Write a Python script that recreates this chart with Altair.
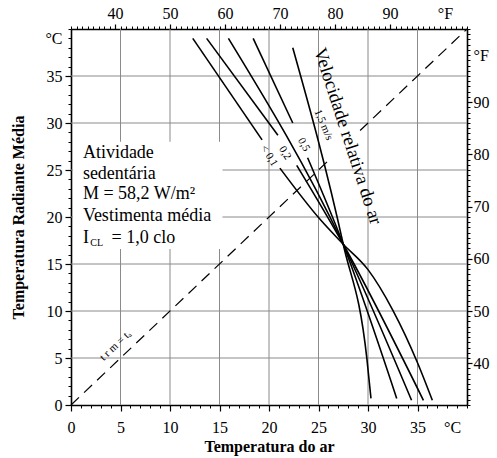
import altair as alt
import pandas as pd

FONT = "Liberation Serif"

# ---------------- data ----------------
grid_vals = [5, 10, 15, 20, 25, 30, 35]

# curves of equal comfort for several relative air velocities (x = air temp, y = mean radiant temp)
A_up_x = [12.3, 19.3]
A_up_y = [39.0, 28.2]
A_lo_x = [21.1, 25.2, 27.5, 30.0, 32.5, 35.0, 36.5]
A_lo_y = [25.2, 19.7, 17.1, 14.4, 10.1, 4.5, 0.5]
B_up_x = [13.7, 20.9]
B_up_y = [39.0, 28.7]
B_lo_x = [22.8, 27.5, 35.6]
B_lo_y = [25.5, 17.1, 0.5]
C_x = [15.9, 27.5, 34.4]
C_y = [39.0, 17.1, 0.5]
D_up_x = [18.4, 22.4]
D_up_y = [39.0, 30.0]
D_lo_x = [23.9, 27.5, 32.9]
D_lo_y = [26.3, 17.1, 0.7]
E_x = [22.4, 27.5, 29.9, 30.3]
E_y = [38.0, 17.1, 4.8, 0.7]

curve_labels = ["< 0,1", "0,2", "0,5", "1,5 m/s"]
curve_lab_x = [20.0, 21.6, 23.5, 25.5]
curve_lab_y = [26.5, 26.8, 27.7, 29.8]
curve_lab_angle = [58, 58, 62, 67]

diag_seg1 = [0, 25.9]
diag_seg2 = [29.2, 40]

info_lines = ["Atividade", "sedentária", "M = 58,2 W/m²", "Vestimenta média"]
info_y = [26.8, 24.6, 22.4, 20.1]
info_x = 1.2
box_x = [0.2, 15.3]
box_y = [16.6, 28.0]

c_labels = [0, 5, 10, 15, 20, 25, 30, 35]
c_minor = list(range(0, 41))
f_labels = [40, 50, 60, 70, 80, 90]
f_minor = list(range(32, 105))

# ---------------- build tables ----------------
segs = [("A1", A_up_x, A_up_y), ("A2", A_lo_x, A_lo_y),
        ("B1", B_up_x, B_up_y), ("B2", B_lo_x, B_lo_y),
        ("C", C_x, C_y),
        ("D1", D_up_x, D_up_y), ("D2", D_lo_x, D_lo_y),
        ("E", E_x, E_y)]
rows = []
for sid, xs, ys in segs:
    for i, (a, b) in enumerate(zip(xs, ys)):
        rows.append({"seg": sid, "x": a, "y": b, "o": i})
curves_df = pd.DataFrame(rows)

diag_df = pd.DataFrame(
    [{"seg": "d1", "x": v, "y": v} for v in diag_seg1] +
    [{"seg": "d2", "x": v, "y": v} for v in diag_seg2])

sx = alt.Scale(domain=[0, 40], nice=False, zero=False)
sy = alt.Scale(domain=[0, 40], nice=False, zero=False)
sF = alt.Scale(domain=[32, 104], nice=False, zero=False)

grid_df = pd.DataFrame({"g": grid_vals})
vgrid = alt.Chart(grid_df).mark_rule(color="#8a8a8a", strokeWidth=1).encode(
    x=alt.X("g:Q", scale=sx, axis=None))
hgrid = alt.Chart(grid_df).mark_rule(color="#8a8a8a", strokeWidth=1).encode(
    y=alt.Y("g:Q", scale=sy, axis=None))

box_df = pd.DataFrame({"x": [box_x[0]], "x2": [box_x[1]], "y": [box_y[0]], "y2": [box_y[1]]})
box = alt.Chart(box_df).mark_rect(color="white").encode(
    x=alt.X("x:Q", scale=sx, axis=None), x2="x2:Q",
    y=alt.Y("y:Q", scale=sy, axis=None), y2="y2:Q")

diag = alt.Chart(diag_df).mark_line(color="black", strokeWidth=1.2, strokeDash=[11, 7]).encode(
    x=alt.X("x:Q", scale=sx, axis=None), y=alt.Y("y:Q", scale=sy, axis=None), detail="seg:N")

curves = alt.Chart(curves_df).mark_line(color="black", strokeWidth=1.6, interpolate="monotone").encode(
    x=alt.X("x:Q", scale=sx, axis=None), y=alt.Y("y:Q", scale=sy, axis=None),
    detail="seg:N", order="o:Q")

lab_df = pd.DataFrame({"t": curve_labels, "x": curve_lab_x, "y": curve_lab_y, "a": curve_lab_angle})
labs = alt.Chart(lab_df).mark_text(font=FONT, fontSize=11, color="black").encode(
    x=alt.X("x:Q", scale=sx, axis=None), y=alt.Y("y:Q", scale=sy, axis=None),
    text="t:N", angle=alt.Angle("a:Q", scale=None))

vel_df = pd.DataFrame({"t": ["Velocidade relativa do ar"], "x": [28.0], "y": [28.6]})
vel = alt.Chart(vel_df).mark_text(font=FONT, fontSize=18.5, color="black", angle=72).encode(
    x=alt.X("x:Q", scale=sx, axis=None), y=alt.Y("y:Q", scale=sy, axis=None), text="t:N")

trm_df = pd.DataFrame({"t": ["t r m = tₐ"], "x": [4.5], "y": [6.3]})
trm = alt.Chart(trm_df).mark_text(font=FONT, fontSize=11, color="black", angle=316.5).encode(
    x=alt.X("x:Q", scale=sx, axis=None), y=alt.Y("y:Q", scale=sy, axis=None), text="t:N")

info_df = pd.DataFrame({"t": info_lines, "x": [info_x] * len(info_lines), "y": info_y})
info = alt.Chart(info_df).mark_text(font=FONT, fontSize=18, color="black", align="left").encode(
    x=alt.X("x:Q", scale=sx, axis=None), y=alt.Y("y:Q", scale=sy, axis=None), text="t:N")

icl_df = pd.DataFrame({"t": ["I", "CL", "= 1,0 clo"], "x": [info_x, 1.95, 4.1],
                       "y": [17.8, 17.2, 17.8], "s": [18, 10, 18]})
icl = alt.Chart(icl_df).mark_text(font=FONT, color="black", align="left").encode(
    x=alt.X("x:Q", scale=sx, axis=None), y=alt.Y("y:Q", scale=sy, axis=None), text="t:N",
    size=alt.Size("s:Q", scale=None))

main = alt.layer(vgrid, hgrid, box, diag, curves, labs, vel, trm, info, icl)

# ---------------- axes ----------------
lab_common = dict(domainColor="black", domainWidth=1.6, tickColor="#000000", tickWidth=1.2,
                  labelFont=FONT, labelFontSize=16, labelColor="black",
                  labelOverlap=False, labelFlush=False, labelBound=False,
                  grid=True, gridOpacity=0,
                  titleFont=FONT, titleFontSize=16, titleFontWeight="bold", titleColor="black")
minor_common = dict(domain=False, tickColor="#000000", tickWidth=1, labels=True,
                    labelExpr="''", grid=True, gridOpacity=0,
                    title=None, tickSize=3)
unit_common = dict(domain=False, ticks=False, tickSize=0, labelFont=FONT, labelFontSize=16,
                   labelColor="black", labelOverlap=False, labelFlush=False, labelBound=False,
                   grid=False, title=None)

one = pd.DataFrame({"c": [0], "f": [32]})


def xaxis(field, scale, axis):
    return alt.Chart(one).mark_point(opacity=0).encode(
        x=alt.X(f"{field}:Q", scale=scale, axis=axis), y=alt.value(0))


def yaxis(field, scale, axis):
    return alt.Chart(one).mark_point(opacity=0).encode(
        y=alt.Y(f"{field}:Q", scale=scale, axis=axis), x=alt.value(0))


layers = [
    main,
    # bottom (°C)
    xaxis("c", sx, alt.Axis(orient="bottom", values=c_labels, tickSize=6, labelPadding=8,
                            title="Temperatura do ar", titlePadding=3, **lab_common)),
    xaxis("c", sx, alt.Axis(orient="bottom", values=[38.5], labelPadding=14,
                            labelExpr="'°C'", **unit_common)),
    xaxis("c", sx, alt.Axis(orient="bottom", values=c_minor, **minor_common)),
    # left (°C)
    yaxis("c", sy, alt.Axis(orient="left", values=c_labels, tickSize=6, labelPadding=3,
                            title="Temperatura Radiante Média", titlePadding=20, **lab_common)),
    yaxis("c", sy, alt.Axis(orient="left", values=[39], labelPadding=9,
                            labelExpr="'°C'", **unit_common)),
    yaxis("c", sy, alt.Axis(orient="left", values=c_minor, **minor_common)),
    # top (°F)
    xaxis("f", sF, alt.Axis(orient="top", values=f_labels, tickSize=5, labelPadding=3,
                            title=None, **lab_common)),
    xaxis("f", sF, alt.Axis(orient="top", values=[100], labelPadding=8,
                            labelExpr="'°F'", **unit_common)),
    xaxis("f", sF, alt.Axis(orient="top", values=f_minor, **minor_common)),
    # right (°F)
    yaxis("f", sF, alt.Axis(orient="right", values=f_labels, tickSize=5, labelPadding=1,
                            title=None, **lab_common)),
    yaxis("f", sF, alt.Axis(orient="right", values=[99], labelPadding=6,
                            labelExpr="'°F'", **unit_common)),
    yaxis("f", sF, alt.Axis(orient="right", values=f_minor, **minor_common)),
]

chart = alt.layer(*layers).resolve_scale(
    x="independent", y="independent"
).properties(
    width=396, height=376,
    padding={"left": 71, "top": 29, "right": 30, "bottom": 53},
    autosize=alt.AutoSizeParams(type="none"),
    background="white",
).configure_view(stroke=None)

chart.save("out.html", embed_options={"renderer": "svg", "actions": False})
